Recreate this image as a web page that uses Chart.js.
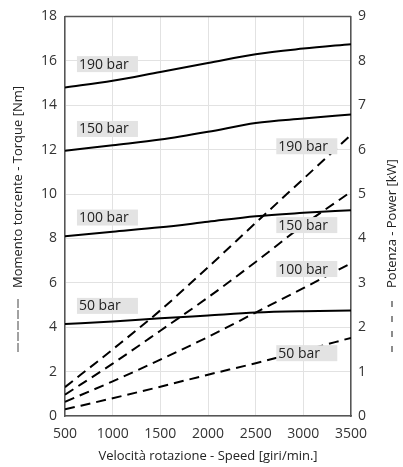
<!DOCTYPE html>
<html>
<head>
<meta charset="utf-8">
<script src="https://cdn.jsdelivr.net/npm/chart.js@4"></script>
<style>
  html, body { margin: 0; padding: 0; background: #fff; }
  #wrap { width: 403px; height: 467px; }
</style>
</head>
<body>
<div id="wrap"><canvas id="chart"></canvas></div>
<script>
// ==========================================
// Torque / power curves vs speed
// ==========================================

const speeds = [500, 1000, 1500, 2000, 2500, 3000, 3500];

// Torque [Nm] (left axis, solid)
const torque190 = [14.8, 15.1, 15.5, 15.9, 16.3, 16.55, 16.75];
const torque150 = [11.95, 12.2, 12.45, 12.8, 13.2, 13.4, 13.58];
const torque100 = [8.1, 8.3, 8.5, 8.75, 9.0, 9.15, 9.27];
const torque50 = [4.14, 4.26, 4.4, 4.53, 4.66, 4.72, 4.75];

// Power [kW] (right axis, dashed)
const power190 = [0.65, 1.5, 2.38, 3.35, 4.35, 5.34, 6.33];
const power150 = [0.48, 1.18, 1.92, 2.67, 3.47, 4.3, 5.05];
const power100 = [0.32, 0.78, 1.27, 1.78, 2.33, 2.88, 3.44];
const power50 = [0.15, 0.4, 0.66, 0.93, 1.19, 1.47, 1.76];

const pressureLabels = ['190 bar', '150 bar', '100 bar', '50 bar'];

const xTitle = 'Velocità rotazione - Speed [giri/min.]';
const leftTitle = 'Momento torcente - Torque [Nm]';
const rightTitle = 'Potenza - Power [kW]';

// label anchors, in data units (speed, torque)
const leftLabelPos = [[940, 15.85], [940, 12.93], [940, 8.94], [940, 4.96]];
const rightLabelPos = [[3031, 12.15], [3031, 8.6], [3031, 6.62], [3031, 2.83]];

const FONT = "'Open Sans', 'DejaVu Sans', sans-serif";

function pts(ys) {
  return speeds.map((x, i) => ({ x, y: ys[i] }));
}

function solid(ys) {
  return {
    data: pts(ys), yAxisID: 'y',
    borderColor: '#000', borderWidth: 2, pointRadius: 0,
    cubicInterpolationMode: 'monotone', fill: false
  };
}

function dashed(ys) {
  return {
    data: pts(ys), yAxisID: 'y1',
    borderColor: '#000', borderWidth: 2, borderDash: [10, 6], pointRadius: 0,
    cubicInterpolationMode: 'monotone', fill: false
  };
}

// frame, labels and axis titles
const decor = {
  id: 'decor',
  afterDatasetsDraw(chart) {
    const { ctx, scales } = chart;
    const xs = scales.x, ys = scales.y;
    ctx.save();
    ctx.font = '14px ' + FONT;
    ctx.textBaseline = 'middle';
    ctx.textAlign = 'left';
    const draw = (pos, i) => {
      const cx = xs.getPixelForValue(pos[0]);
      const cy = ys.getPixelForValue(pos[1]);
      ctx.fillStyle = '#e3e3e3';
      ctx.fillRect(cx - 30, cy - 8, 61, 16);
      ctx.fillStyle = '#222';
      ctx.fillText(pressureLabels[i], cx - 28, cy + 0.5);
    };
    leftLabelPos.forEach(draw);
    rightLabelPos.forEach(draw);
    ctx.restore();
  },
  afterDraw(chart) {
    const { ctx, chartArea: a } = chart;
    ctx.save();
    // top border
    ctx.strokeStyle = '#555';
    ctx.lineWidth = 1.5;
    ctx.beginPath();
    ctx.moveTo(a.left, a.top);
    ctx.lineTo(a.right, a.top);
    ctx.stroke();

    ctx.fillStyle = '#222';
    ctx.font = '13px ' + FONT;
    ctx.textBaseline = 'middle';

    // x title
    ctx.textAlign = 'center';
    ctx.fillText(xTitle, (a.left + a.right) / 2, 456);

    // left title (reads bottom to top)
    ctx.save();
    ctx.translate(18, 352);
    ctx.rotate(-Math.PI / 2);
    ctx.strokeStyle = '#444';
    ctx.lineWidth = 1;
    ctx.setLineDash([9, 2]);
    ctx.beginPath();
    ctx.moveTo(0, 0);
    ctx.lineTo(55, 0);
    ctx.stroke();
    ctx.textAlign = 'left';
    ctx.fillText(leftTitle, 64, 0);
    ctx.restore();

    // right title
    ctx.save();
    ctx.translate(392, 352);
    ctx.rotate(-Math.PI / 2);
    ctx.strokeStyle = '#666';
    ctx.lineWidth = 1.5;
    ctx.setLineDash([6, 9]);
    ctx.beginPath();
    ctx.moveTo(0, 0);
    ctx.lineTo(55, 0);
    ctx.stroke();
    ctx.textAlign = 'left';
    ctx.fillText(rightTitle, 64, 0);
    ctx.restore();

    ctx.restore();
  }
};

const tickStyle = { color: '#333', font: { family: FONT, size: 14 }, callback: v => String(v) };

new Chart(document.getElementById('chart'), {
  type: 'line',
  data: {
    datasets: [
      solid(torque190), solid(torque150), solid(torque100), solid(torque50),
      dashed(power190), dashed(power150), dashed(power100), dashed(power50)
    ]
  },
  options: {
    responsive: true,
    maintainAspectRatio: false,
    animation: false,
    layout: { padding: { top: 15 } },
    plugins: {
      legend: { display: false },
      tooltip: { enabled: false }
    },
    scales: {
      x: {
        type: 'linear', min: 500, max: 3500,
        grid: { color: '#e2e2e2', drawTicks: false },
        border: { color: '#555', width: 1.5 },
        ticks: { ...tickStyle, stepSize: 500, padding: 10, maxRotation: 0 },
        afterFit: s => { s.height = 51; }
      },
      y: {
        position: 'left', min: 0, max: 18,
        grid: { color: '#e2e2e2', drawTicks: false },
        border: { color: '#555', width: 1.5 },
        ticks: { ...tickStyle, stepSize: 2, padding: 8 },
        afterFit: s => { s.width = 65; }
      },
      y1: {
        position: 'right', min: 0, max: 9,
        grid: { display: false, drawTicks: false },
        border: { color: '#555', width: 1.5 },
        ticks: { ...tickStyle, stepSize: 1, padding: 7 },
        afterFit: s => { s.width = 52; }
      }
    }
  },
  plugins: [decor]
});
</script>
</body>
</html>
